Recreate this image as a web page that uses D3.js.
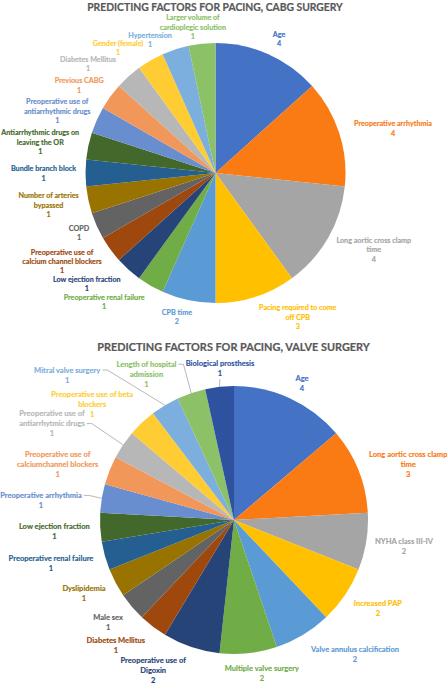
<!DOCTYPE html>
<html><head><meta charset="utf-8">
<script src="https://cdn.jsdelivr.net/npm/d3@7"></script>
<style>body{margin:0;background:#fff}svg{display:block}</style>
</head><body>
<svg id="chart" width="447" height="685"></svg>
<script>
// ---------- DATA ----------
const cabgTitle = "PREDICTING FACTORS FOR PACING, CABG SURGERY";
const cabgCategories = ["Age","Preoperative arrhythmia","Long aortic cross clamp time","Pacing required to come off CPB","CPB time","Preoperative renal failure","Low ejection fraction","Preoperative use of calcium channel blockers","COPD","Number of arteries bypassed","Bundle branch block","Antiarrhythmic drugs on leaving the OR","Preoperative use of antiarrhythmic drugs","Previous CABG","Diabetes Mellitus","Gender (female)","Hypertension","Larger volume of cardioplegic solution"];
const cabgValues = [4,4,4,3,2,1,1,1,1,1,1,1,1,1,1,1,1,1];

const valveTitle = "PREDICTING FACTORS FOR PACING, VALVE SURGERY";
const valveCategories = ["Age","Long aortic cross clamp time","NYHA class III-IV","Increased PAP","Valve annulus calcification","Multiple valve surgery","Preoperative use of Digoxin","Diabetes Mellitus","Male sex","Dyslipidemia","Preoperative renal failure","Low ejection fraction","Preoperative arrhythmia","Preoperative use of calciumchannel blockers","Preoperative use of antiarrhytmic drugs","Preoperative use of beta blockers","Mitral valve surgery","Length of hospital admission","Biological prosthesis"];
const valveValues = [4,3,2,2,2,2,2,1,1,1,1,1,1,1,1,1,1,1,1];

// ---------- LAYOUT / STYLE ----------
const palette = ["#4472C4","#FA7A14","#A5A5A5","#FFC000","#5B9BD5","#70AD47","#264478","#9E480E","#636363","#997300","#255E91","#43682B","#698ED0","#F1975A","#B7B7B7","#FFCD33","#7CAFDD","#8CC168","#2F52A0"];
// words on first line (0 = single line)
const cabgWrap = [0,0,4,4,0,0,0,3,0,3,0,3,3,0,0,0,0,3];
const valveWrap = [0,4,0,0,0,0,3,0,0,0,0,0,0,3,3,4,0,3,0];
// label block centres, polar [deg clockwise from top, radius]
const cabgLabelPos = [[25.4,148],[75.9,183],[115.9,176],[150.3,166],[195,149],[220.8,170.5],[229.2,170],[240,177.2],[246.4,149],[259.1,170],[269.8,172],[280,178],[291.4,170],[302.7,162],[310.5,167.7],[322.05,158.5],[333.8,148.3],[351.2,147.7]];
const valveLabelPos = [[26.4,153],[72.2,183],[98.7,172],[121.6,169],[137.9,180.5],[169.7,156],[208.2,171],[223.4,172],[231,162],[243.9,167],[256.8,188],[266.5,180],[275.8,194],[287.6,185],[297.9,206],[309.2,183],[311,221],[329,170],[354.7,152]];
// leader lines: null, line index (from right end of that line) or "below"
const valveLeaders = [null,null,null,null,null,null,null,null,null,null,null,null,0,null,1,null,0,0,"below"];

const svg = d3.select("#chart");
const FONT = "Lato, 'Open Sans', sans-serif";

function fitSize(text, weight, target){
  const t = svg.append("text").attr("font-family",FONT).attr("font-weight",weight).attr("font-size",10).text(text);
  const w = t.node().getComputedTextLength(); t.remove();
  return 10*target/w;
}

function drawChart(cfg){
  // title
  svg.append("text").attr("x",cfg.titleX).attr("y",cfg.titleY)
    .attr("text-anchor","middle").attr("font-family",FONT).attr("font-weight",700)
    .attr("font-size",fitSize(cfg.title,700,cfg.titleW)).attr("fill","#595959")
    .attr("stroke","#595959").attr("stroke-width",0.2).text(cfg.title);

  const g = svg.append("g").attr("transform",`translate(${cfg.cx},${cfg.cy})`);
  const arcs = d3.pie().sort(null).value(d=>d)(cfg.values);
  const arc = d3.arc().innerRadius(0).outerRadius(cfg.r);
  g.selectAll("path.slice").data(arcs).join("path").attr("class","slice")
    .attr("d",arc).attr("fill",(d,i)=>palette[i]);

  const fs = fitSize("Preoperative renal failure",700,cfg.refW);
  arcs.forEach((d,i)=>{
    const [ang,rad] = cfg.labelPos[i];
    const a = ang*Math.PI/180;
    const x = rad*Math.sin(a), y = -rad*Math.cos(a);
    const words = cfg.categories[i].split(" ");
    const n1 = cfg.wrap[i];
    const lines = (n1 ? [words.slice(0,n1).join(" "), words.slice(n1).join(" ")] : [cfg.categories[i]]).concat([String(cfg.values[i])]);
    const n = lines.length;
    const t = g.append("text").attr("text-anchor","middle").attr("font-family",FONT)
      .attr("font-weight",700).attr("font-size",fs).attr("fill",palette[i])
      .attr("stroke",palette[i]).attr("stroke-width",0.15);
    const spans = lines.map((ln,k)=> t.append("tspan").attr("x",x)
      .attr("y", y + (k-(n-1)/2)*cfg.lineH).attr("dy","0.35em").text(ln));
    const lead = cfg.leaders ? cfg.leaders[i] : null;
    if(lead!==null && lead!==undefined){
      const mid = (d.startAngle+d.endAngle)/2;
      const ex = cfg.r*Math.sin(mid), ey = -cfg.r*Math.cos(mid);
      let pts;
      if(lead==="below"){
        const by = y + ((n-1)/2)*cfg.lineH + cfg.lineH*0.55;
        pts = [[x,by],[ex,ey]];
      } else {
        const w = spans[lead].node().getComputedTextLength();
        const ly = y + (lead-(n-1)/2)*cfg.lineH;
        const sx = x + w/2 + 2;
        pts = [[sx,ly],[sx+5,ly],[ex,ey]];
      }
      g.append("path").attr("d",d3.line()(pts)).attr("fill","none")
        .attr("stroke","#A6A6A6").attr("stroke-width",0.8);
    }
  });
}

drawChart({title:cabgTitle,titleX:215,titleY:10.5,titleW:256,cx:215.5,cy:173,r:130,
  categories:cabgCategories,values:cabgValues,wrap:cabgWrap,labelPos:cabgLabelPos,
  leaders:null,refW:81,lineH:9.3});
drawChart({title:valveTitle,titleX:233.5,titleY:350.7,titleW:273,cx:234,cy:520,r:134,
  categories:valveCategories,values:valveValues,wrap:valveWrap,labelPos:valveLabelPos,
  leaders:valveLeaders,refW:85,lineH:10});
</script>
</body></html>
